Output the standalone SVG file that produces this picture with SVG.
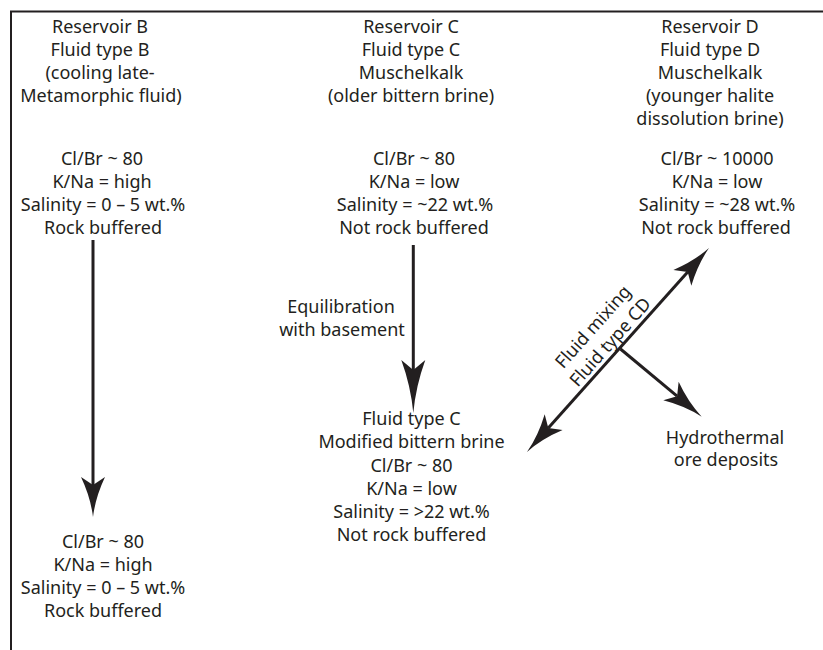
<svg xmlns="http://www.w3.org/2000/svg" width="823" height="650" viewBox="0 0 823 650">
<style>
text{font-family:"Noto Sans","Liberation Sans",sans-serif;font-size:18px;fill:#231f20;text-anchor:middle}
.frame{fill:none;stroke:#231f20;stroke-width:2}
.conn{fill:none;stroke:#231f20;stroke-width:3}
</style>
<defs>
<marker id="ah" markerUnits="userSpaceOnUse" orient="auto-start-reverse" viewBox="-40 -40 80 80" markerWidth="80" markerHeight="80" refX="0" refY="0" style="overflow:visible">
<path d="M32,0 Q12,-2.5 -8,-12 L0,0 L-8,12 Q12,2.5 32,0 Z" fill="#231f20"/>
</marker>
<marker id="ahL" markerUnits="userSpaceOnUse" orient="auto-start-reverse" viewBox="-60 -60 120 120" markerWidth="120" markerHeight="120" refX="0" refY="0" style="overflow:visible">
<path d="M43,0 Q16,-2.5 -10,-12 L0,0 L-10,12 Q16,2.5 43,0 Z" fill="#231f20"/>
</marker>
</defs>
<rect width="823" height="650" fill="#ffffff"/>
<path class="frame" d="M11,650 V11.5 H823"/>

<g id="resB">
<text x="100" y="32.5">Reservoir B</text>
<text x="100" y="55.5">Fluid type B</text>
<text x="100" y="78.5">(cooling late-</text>
<text x="101" y="101.5">Metamorphic fluid)</text>
<text x="102" y="165">Cl/Br ~ 80</text>
<text x="102" y="188">K/Na = high</text>
<text x="103" y="211">Salinity = 0 – 5 wt.%</text>
<text x="103" y="234">Rock buffered</text>
</g>

<g id="resC">
<text x="411" y="32.5">Reservoir C</text>
<text x="411" y="55.5">Fluid type C</text>
<text x="411" y="78.5">Muschelkalk</text>
<text x="411" y="101.5">(older bittern brine)</text>
<text x="414" y="165">Cl/Br ~ 80</text>
<text x="414" y="188">K/Na = low</text>
<text x="415" y="211">Salinity = ~22 wt.%</text>
<text x="414" y="234">Not rock buffered</text>
</g>

<g id="resD">
<text x="710" y="32.5">Reservoir D</text>
<text x="710" y="55.5">Fluid type D</text>
<text x="710" y="78.5">Muschelkalk</text>
<text x="710" y="101.5">(younger halite</text>
<text x="710" y="124.5">dissolution brine)</text>
<text x="717" y="165">Cl/Br ~ 10000</text>
<text x="717" y="188">K/Na = low</text>
<text x="717" y="211">Salinity = ~28 wt.%</text>
<text x="716" y="234">Not rock buffered</text>
</g>

<g id="fluidB">
<text x="103" y="548">Cl/Br ~ 80</text>
<text x="103" y="571">K/Na = high</text>
<text x="103" y="594">Salinity = 0 – 5 wt.%</text>
<text x="103" y="617">Rock buffered</text>
</g>

<g id="fluidCmod">
<text x="411.5" y="425">Fluid type C</text>
<text x="411.5" y="448">Modified bittern brine</text>
<text x="411.5" y="471.5">Cl/Br ~ 80</text>
<text x="411.5" y="494.5">K/Na = low</text>
<text x="411.5" y="517.5">Salinity = &gt;22 wt.%</text>
<text x="411.5" y="540.5">Not rock buffered</text>
</g>

<g id="ore">
<text x="725" y="443.5">Hydrothermal</text>
<text x="726" y="466">ore deposits</text>
</g>

<g id="connectors">
<path class="conn" d="M93,240 V485" marker-end="url(#ah)"/>
<path class="conn" d="M413.3,245 V370" marker-end="url(#ahL)"/>
<path class="conn" d="M548.3,428.1 L687.7,271.9" marker-start="url(#ah)" marker-end="url(#ah)"/>
<path class="conn" d="M620.5,349 L677.1,396.2" marker-end="url(#ah)"/>
<text x="341" y="313">Equilibration</text>
<text x="342" y="335.5">with basement</text>
<g transform="translate(618.5,349.5) rotate(-48.3)">
<text x="0" y="-28">Fluid mixing</text>
<text x="0" y="-5">Fluid type CD</text>
</g>
</g>
</svg>
